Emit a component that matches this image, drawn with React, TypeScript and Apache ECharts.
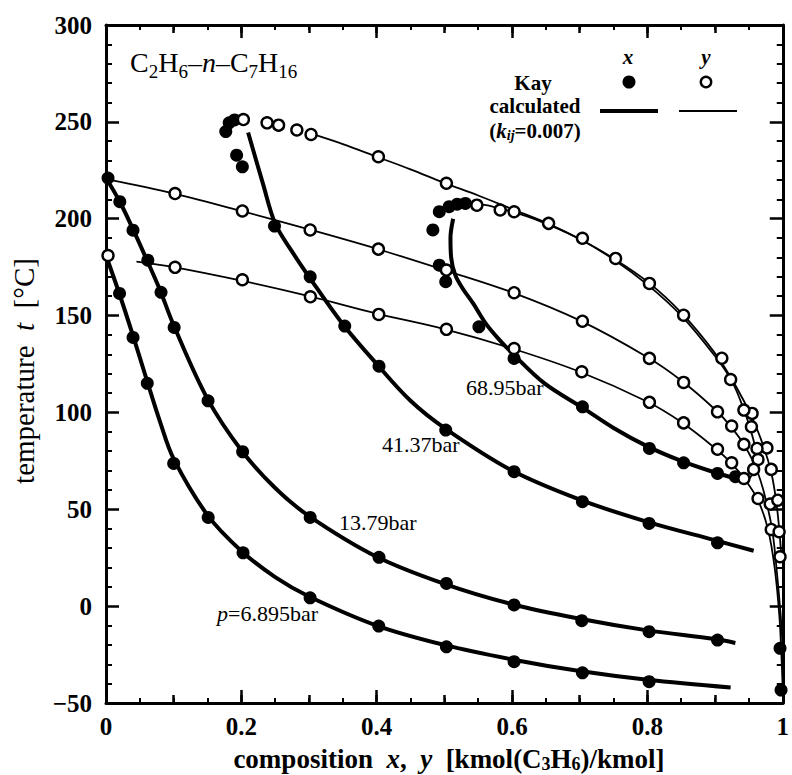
import React, { useEffect, useRef } from 'react';
import * as echarts from 'echarts';

const F = '"Liberation Serif", "Times New Roman", serif';

// axis ranges
const xRange = [0, 1];
const yRange = [-50, 300];

// calculated bubble curves (liquid, x) — thick
const bub7Calc = [[0,181],[0.02,161],[0.04,139.5],[0.06,117],[0.08,95],[0.1,76],[0.15,47],[0.2,28.5],[0.25,15],[0.3,5],[0.4,-10],[0.5,-20],[0.6,-27.5],[0.7,-33.5],[0.8,-38],[0.923,-42]];
const bub14Calc = [[0,221],[0.02,209],[0.04,194.5],[0.06,179],[0.08,163],[0.1,145],[0.15,107],[0.2,80.5],[0.25,61],[0.3,46.5],[0.4,25.5],[0.5,11.5],[0.6,1],[0.7,-6.5],[0.8,-12.5],[0.9,-17],[0.93,-19]];
const bub41Calc = [[0.21,244.5],[0.232,218],[0.25,197.5],[0.275,183],[0.3,170],[0.35,145.5],[0.4,125],[0.45,106],[0.5,92],[0.6,70],[0.7,55],[0.8,43.5],[0.9,34],[0.957,28.6]];
const bub69Calc = [[0.513,200],[0.509,190],[0.51,180],[0.516,171],[0.527,164],[0.543,156],[0.561,146],[0.58,138],[0.602,130],[0.648,115],[0.704,102.5],[0.75,92],[0.8,82.5],[0.85,75],[0.9,69],[0.945,64.5]];

// calculated dew curves (vapour, y) — thin
const dew7Calc = [[0.045,177.8],[0.1,175],[0.2,168],[0.3,160],[0.4,151],[0.5,143],[0.6,133],[0.7,121],[0.8,105.5],[0.85,95],[0.9,81.5],[0.925,73.5],[0.945,65],[0.963,55],[0.978,40],[0.988,20],[0.995,-5],[0.998,-25],[1.0,-43]];
const dew14Calc = [[0.006,220],[0.1,213],[0.2,204],[0.3,194.5],[0.4,184.5],[0.5,173.5],[0.6,162],[0.7,147.5],[0.8,128.5],[0.85,116.5],[0.9,101.5],[0.925,92],[0.945,82],[0.962,70],[0.975,55],[0.985,38],[0.992,15],[0.997,-5],[1.0,-21]];
const dew41Calc = [[0.302,244],[0.35,238.5],[0.4,232],[0.45,225.5],[0.5,218.5],[0.55,212],[0.6,205],[0.65,198],[0.7,189.5],[0.75,179.5],[0.8,167.5],[0.85,151.5],[0.9,130.5],[0.93,114],[0.955,97],[0.972,82],[0.983,69],[0.99,55],[0.995,39],[0.998,25]];
const dew69Calc = [[0.513,207],[0.548,207.5],[0.58,205.5],[0.62,201.5],[0.65,197.5],[0.7,189.5],[0.75,179],[0.8,166],[0.85,150],[0.9,129],[0.925,116],[0.943,101],[0.955,88],[0.961,77],[0.958,70],[0.95,65.5]];

// Kay experimental, liquid x (filled)
const kayX7 = [[0.02,161.4],[0.04,138.7],[0.061,115],[0.1,73.7],[0.151,45.8],[0.2025,27.5],[0.3016,4.3],[0.403,-10.3],[0.503,-21],[0.603,-28.7],[0.704,-34.4],[0.8025,-39],[0.9975,-43.3]];
const kayX14 = [[0.003,221],[0.0204,208.8],[0.0399,194.1],[0.0618,178.6],[0.0813,162],[0.1007,143.9],[0.1508,106],[0.2019,79.7],[0.3017,45.8],[0.4034,25.2],[0.503,11.7],[0.603,0.6],[0.703,-7.5],[0.8025,-13.2],[0.9036,-17.5],[0.996,-21.8]];
const kayX41 = [[0.177,245],[0.182,249.5],[0.19,251],[0.193,232.8],[0.2015,226.8],[0.249,196.2],[0.3017,170],[0.3528,144.6],[0.4034,123.9],[0.502,90.9],[0.603,69.4],[0.704,53.9],[0.8025,42.7],[0.9036,32.7]];
const kayX69 = [[0.4925,203.6],[0.507,206.2],[0.519,207.5],[0.531,207.9],[0.483,194.2],[0.4925,176],[0.502,167.5],[0.551,144.2],[0.603,127.9],[0.704,102.9],[0.803,81.4],[0.8535,74],[0.9036,68.5],[0.93,66.8]];

// Kay experimental, vapour y (open)
const kayY7 = [[0.003,181],[0.102,174.9],[0.2015,168.5],[0.302,159.7],[0.403,150.6],[0.503,142.9],[0.603,133],[0.703,121],[0.803,105.2],[0.8535,94.6],[0.9036,81],[0.9245,74],[0.9426,65.9],[0.9635,55.6],[0.983,39.6]];
const kayY14 = [[0.102,213],[0.2015,204],[0.3017,194.2],[0.4025,184.3],[0.503,173.5],[0.603,161.8],[0.704,147.1],[0.803,127.9],[0.8535,115.5],[0.9036,100.3],[0.9245,93],[0.9426,83.5],[0.9815,52.7]];
const kayY41 = [[0.203,251.2],[0.238,249.5],[0.255,248.3],[0.282,245.8],[0.303,243.5],[0.4025,232],[0.503,218.3],[0.603,203.6],[0.9547,99.5],[0.9766,81.7],[0.983,70.6],[0.9927,54.7],[0.9946,38.4],[0.996,25.5]];
const kayY69 = [[0.548,207],[0.5825,204.5],[0.654,197.6],[0.704,189.9],[0.753,179.5],[0.803,166.6],[0.8535,150.2],[0.91,128],[0.923,117],[0.9426,101.2],[0.9537,92.6],[0.962,81.4],[0.9635,75.7],[0.957,70.6]];

const pressureLabels = ['p=6.895bar', '13.79bar', '41.37bar', '68.95bar'];

export default function App() {
  const ref = useRef<HTMLDivElement>(null);
  useEffect(() => {
    if (!ref.current) return;
    const chart = echarts.init(ref.current, null, { renderer: 'svg' });
    const black = '#000';
    const thick = (name: string, data: number[][]) => ({
      name, type: 'line', data, smooth: 0.35, symbol: 'none', z: 3,
      lineStyle: { color: black, width: 4 }, xAxisIndex: 0, yAxisIndex: 0,
    });
    const thin = (name: string, data: number[][]) => ({
      name, type: 'line', data, smooth: 0.35, symbol: 'none', z: 3,
      lineStyle: { color: black, width: 1.8 }, xAxisIndex: 0, yAxisIndex: 0,
    });
    const filled = (name: string, data: number[][]) => ({
      name, type: 'scatter', data, symbol: 'circle', symbolSize: 13, z: 5,
      itemStyle: { color: black, opacity: 1 }, xAxisIndex: 0, yAxisIndex: 0,
    });
    const open = (name: string, data: number[][]) => ({
      name, type: 'scatter', data, symbol: 'circle', symbolSize: 11, z: 6,
      itemStyle: { color: '#fff', borderColor: black, borderWidth: 2.4, opacity: 1 }, xAxisIndex: 0, yAxisIndex: 0,
    });

    const baseX = (pos: string, interval: number, len: number, labels: boolean, line: boolean, minor: boolean) => ({
      type: 'value', min: xRange[0], max: xRange[1], interval, position: pos,
      axisLine: { show: line, onZero: false, lineStyle: { color: black, width: 3 } },
      axisTick: { show: true, inside: true, length: len, lineStyle: { color: black, width: 2.5 } },
      minorTick: { show: minor, splitNumber: 4, length: 5, lineStyle: { color: black, width: 2 } },
      splitLine: { show: false },
      axisLabel: {
        show: labels, fontSize: 25, fontWeight: 'bold', fontFamily: F, color: black, margin: 11,
        formatter: (v: number) => (v === 0 ? '0' : v === 1 ? '1' : v.toFixed(1)),
      },
    });
    const baseY = (pos: string, labels: boolean) => ({
      type: 'value', min: yRange[0], max: yRange[1], interval: 50, position: pos,
      axisLine: { show: true, onZero: false, lineStyle: { color: black, width: 3 } },
      axisTick: { show: true, inside: true, length: 13, lineStyle: { color: black, width: 2.5 } },
      minorTick: { show: true, splitNumber: 5, length: 6, lineStyle: { color: black, width: 2 } },
      splitLine: { show: false },
      axisLabel: {
        show: labels, fontSize: 25, fontWeight: 'bold', fontFamily: F, color: black, margin: 14,
        formatter: (v: number) => String(v).replace('-', '\u2212'),
      },
    });

    const txt = (x: number, y: number, text: string, rich: any, extra: any = {}) => ({
      type: 'text', x, y, z: 20,
      style: { text, rich, fill: black, fontFamily: F, verticalAlign: 'middle', ...extra },
    });
    const n22 = { fontSize: 22, fontFamily: F, lineHeight: 24 };
    const l21b = { fontSize: 21, fontFamily: F, fontWeight: 'bold', lineHeight: 16 };
    const l21bt = { ...l21b, verticalAlign: 'top' };

    chart.setOption({
      animation: false,
      backgroundColor: '#fff',
      grid: { left: 106, right: 1, top: 25, bottom: 72, containLabel: false },
      xAxis: [
        baseX('bottom', 0.2, 13, true, true, true),
        baseX('bottom', 0.1, 8, false, false, false),
        baseX('top', 0.2, 13, false, true, true),
        baseX('top', 0.1, 8, false, false, false),
      ],
      yAxis: [baseY('left', true), baseY('right', false)],
      series: [
        thick('bubble 6.895 bar', bub7Calc),
        thick('bubble 13.79 bar', bub14Calc),
        thick('bubble 41.37 bar', bub41Calc),
        thick('bubble 68.95 bar', bub69Calc),
        thin('dew 6.895 bar', dew7Calc),
        thin('dew 13.79 bar', dew14Calc),
        thin('dew 41.37 bar', dew41Calc),
        thin('dew 68.95 bar', dew69Calc),
        filled('Kay x 6.895 bar', kayX7),
        filled('Kay x 13.79 bar', kayX14),
        filled('Kay x 41.37 bar', kayX41),
        filled('Kay x 68.95 bar', kayX69),
        open('Kay y 6.895 bar', kayY7),
        open('Kay y 13.79 bar', kayY14),
        open('Kay y 41.37 bar', kayY41),
        open('Kay y 68.95 bar', kayY69),
      ],
      graphic: [
        // system title
        txt(130, 64, '{n|C}{s|2}{n|H}{s|6}{n|\u2013}{i|n}{n|\u2013C}{s|7}{n|H}{s|16}', {
          n: { fontSize: 28, fontFamily: F, lineHeight: 32, verticalAlign: 'top' },
          i: { fontSize: 28, fontFamily: F, fontStyle: 'italic', lineHeight: 32, verticalAlign: 'top' },
          s: { fontSize: 19, fontFamily: F, lineHeight: 19, padding: [14, 0, 0, 0], verticalAlign: 'top' },
        }),
        // legend
        txt(533, 83, '{b|Kay}', { b: l21b }, { align: 'center' }),
        txt(628, 57, '{i|x}', { i: { ...l21b, fontStyle: 'italic' } }, { align: 'center' }),
        txt(706, 57, '{i|y}', { i: { ...l21b, fontStyle: 'italic' } }, { align: 'center' }),
        { type: 'circle', shape: { cx: 629, cy: 82, r: 6.5 }, style: { fill: black }, z: 20 },
        { type: 'circle', shape: { cx: 706, cy: 82, r: 5.2 }, style: { fill: '#fff', stroke: black, lineWidth: 2.4 }, z: 20 },
        txt(535, 106, '{b|calculated}', { b: l21b }, { align: 'center' }),
        txt(535, 128, '{b|(}{i|k}{s|ij}{b|=0.007)}', {
          b: l21bt,
          i: { ...l21bt, fontStyle: 'italic' },
          s: { fontSize: 14, fontFamily: F, fontWeight: 'bold', fontStyle: 'italic', lineHeight: 14, padding: [8, 0, 0, 0], verticalAlign: 'top' },
        }, { align: 'center' }),
        { type: 'line', shape: { x1: 600, y1: 111, x2: 658, y2: 111 }, style: { stroke: black, lineWidth: 4 }, z: 20 },
        { type: 'line', shape: { x1: 679, y1: 111, x2: 737, y2: 111 }, style: { stroke: black, lineWidth: 2 }, z: 20 },
        // pressure labels
        txt(217, 613, '{i|p}{n|' + pressureLabels[0].slice(1) + '}', {
          i: { ...n22, fontStyle: 'italic' }, n: n22,
        }),
        txt(339, 522, '{n|' + pressureLabels[1] + '}', { n: n22 }),
        txt(382, 444, '{n|' + pressureLabels[2] + '}', { n: n22 }),
        txt(466, 387, '{n|' + pressureLabels[3] + '}', { n: n22 }),
        // axis titles
        txt(449, 758, '{b|composition}{sp|  }{i|x}{b|,}{sp|  }{i|y}{sp|  }{b|[kmol(C}{s|3}{b|H}{s|6}{b|)/kmol]}', {
          b: { fontSize: 27, fontFamily: F, fontWeight: 'bold', lineHeight: 26, verticalAlign: 'top' },
          i: { fontSize: 27, fontFamily: F, fontWeight: 'bold', fontStyle: 'italic', lineHeight: 26, verticalAlign: 'top' },
          sp: { fontSize: 27, fontFamily: F, lineHeight: 26, verticalAlign: 'top' },
          s: { fontSize: 18, fontFamily: F, fontWeight: 'bold', lineHeight: 18, padding: [10, 0, 0, 0], verticalAlign: 'top' },
        }, { align: 'center' }),
        {
          type: 'text', x: 24, y: 371, rotation: Math.PI / 2, z: 20,
          style: {
            text: '{n|temperature}{n|  }{i|t}{n|  [\u00b0C]}',
            rich: {
              n: { fontSize: 29, fontFamily: F, lineHeight: 30 },
              i: { fontSize: 29, fontFamily: F, fontStyle: 'italic', lineHeight: 30 },
            },
            fill: black, align: 'center', verticalAlign: 'middle',
          },
        },
      ],
    });
    return () => chart.dispose();
  }, []);
  return <div ref={ref} style={{ position: 'fixed', left: 0, top: 0, width: 792, height: 775, background: '#fff' }} />;
}
